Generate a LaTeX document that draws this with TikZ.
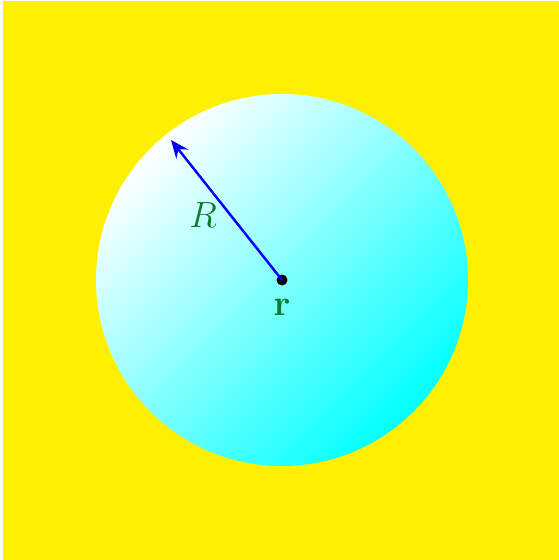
\documentclass[tikz,border=0pt]{standalone}
\usepackage{amsmath,amssymb}
\usepackage{xcolor}
\usepackage{tikz}
\usetikzlibrary{arrows.meta}
\definecolor{bgyel}{RGB}{255,240,0}
\definecolor{lab}{RGB}{10,125,45}
\tikzset{
  ball/.style ={shading=axis,left color=white,right color=cyan,shading angle=45},
  ctr/.style  ={circle,fill=black,minimum size=2.2mm,inner sep=0pt},
  lbl/.style  ={text=lab,font=\fontsize{21}{25}\selectfont},
  ar/.style   ={-{Stealth[length=3.6mm,width=3mm,inset=1.2mm]},blue,line width=1.4pt},
}
\begin{document}
\begin{tikzpicture}[x=0.2mm,y=0.2mm]
  \useasboundingbox (0,0) rectangle (559,560);
  \fill[bgyel] (3,0) rectangle (559,559);
  \shade[ball] (282,280) circle (186);
  \node[ctr] (r) at (282,280){};
  \coordinate (tip) at (171,420);
  \draw[ar] (r.center)--(tip);
  \node[lbl] (lR) at (203,345){$R$};
  \node[lbl] (lr) at (282,253){$\mathbf{r}$};
\end{tikzpicture}
\end{document}
